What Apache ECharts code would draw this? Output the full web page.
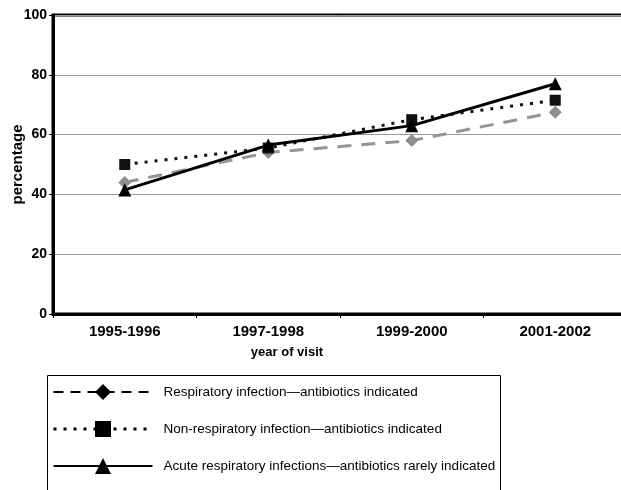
<!DOCTYPE html>
<html><head><meta charset="utf-8">
<script src="https://cdn.jsdelivr.net/npm/echarts@6/dist/echarts.min.js"></script>
<style>html,body{margin:0;padding:0;background:#fff}#c{width:621px;height:490px}</style>
</head><body><div id="c"></div>
<script>
const categories = ['1995-1996', '1997-1998', '1999-2000', '2001-2002'];
const yTicks = [0, 20, 40, 60, 80, 100];
const respiratoryIndicated = [44, 54, 58, 67.5];
const nonRespiratoryIndicated = [50, 55.5, 65, 71.5];
const acuteRarelyIndicated = [41.5, 56.5, 63, 77];
const seriesNames = [
  'Respiratory infection\u2014antibiotics indicated',
  'Non-respiratory infection\u2014antibiotics indicated',
  'Acute respiratory infections\u2014antibiotics rarely indicated'
];

const font = '"Liberation Sans", Arial, sans-serif';
const chart = echarts.init(document.getElementById('c'));
chart.setOption({
  animation: false,
  backgroundColor: '#fff',
  grid: { left: 53, right: -6, top: 15, bottom: 176, outerBoundsMode: 'none', containLabel: false,
          show: true, borderColor: '#000', borderWidth: 3, backgroundColor: 'transparent' },
  graphic: [{
    type: 'rect', left: 45, top: 373, silent: true, z: 0,
    shape: { width: 453, height: 140 },
    style: { fill: 'none', stroke: '#000', lineWidth: 1 }
  }],
  xAxis: {
    type: 'category', data: categories, boundaryGap: true,
    name: 'year of visit', nameLocation: 'middle', nameGap: 32, nameMoveOverlap: false,
    nameTextStyle: { fontFamily: font, fontWeight: 'bold', fontSize: 13, color: '#000', padding: [0, 106, 0, 0] },
    axisLine: { lineStyle: { color: '#000', width: 3 } },
    axisTick: { show: true, alignWithLabel: false, length: 4, lineStyle: { color: '#000', width: 1 } },
    axisLabel: { fontFamily: font, fontWeight: 'bold', fontSize: 15, color: '#000', margin: 10 }
  },
  yAxis: {
    type: 'value', min: yTicks[0], max: yTicks[yTicks.length - 1], interval: 20,
    name: 'percentage', nameLocation: 'middle', nameGap: 28, nameMoveOverlap: false,
    nameTextStyle: { fontFamily: font, fontWeight: 'bold', fontSize: 15, color: '#000' },
    axisLine: { show: true, lineStyle: { color: '#000', width: 3 } },
    axisTick: { show: true, length: 4, lineStyle: { color: '#000', width: 1 } },
    axisLabel: { fontFamily: font, fontWeight: 'bold', fontSize: 14, color: '#000', margin: 6 },
    splitLine: { show: true, lineStyle: { color: '#999', width: 1 } }
  },
  legend: {
    orient: 'vertical', left: 52, top: 384, height: 200,
    padding: 0, itemGap: 21, itemWidth: 99, itemHeight: 20,
    textStyle: { fontFamily: font, fontSize: 13.5, color: '#000', padding: [0, 0, 0, 6] },
    data: [
      { name: seriesNames[0], itemStyle: { color: '#000' }, lineStyle: { color: '#000', type: [10, 7], width: 2 } },
      { name: seriesNames[1], itemStyle: { color: '#000' }, lineStyle: { color: '#000', type: [3, 7], width: 3 } },
      { name: seriesNames[2], itemStyle: { color: '#000' }, lineStyle: { color: '#000', width: 2 } }
    ]
  },
  series: [
    {
      name: seriesNames[0], type: 'line', data: respiratoryIndicated, z: 2,
      symbol: 'diamond', symbolSize: 13,
      itemStyle: { color: '#8f8f8f' },
      lineStyle: { color: '#949494', width: 3, type: [14, 10] }
    },
    {
      name: seriesNames[1], type: 'line', data: nonRespiratoryIndicated, z: 3,
      symbol: 'rect', symbolSize: 11,
      itemStyle: { color: '#111' },
      lineStyle: { color: '#111', width: 3, type: [3, 7] }
    },
    {
      name: seriesNames[2], type: 'line', data: acuteRarelyIndicated, z: 4,
      symbol: 'triangle', symbolSize: 13,
      itemStyle: { color: '#000' },
      lineStyle: { color: '#000', width: 3 }
    }
  ]
});
</script></body></html>
